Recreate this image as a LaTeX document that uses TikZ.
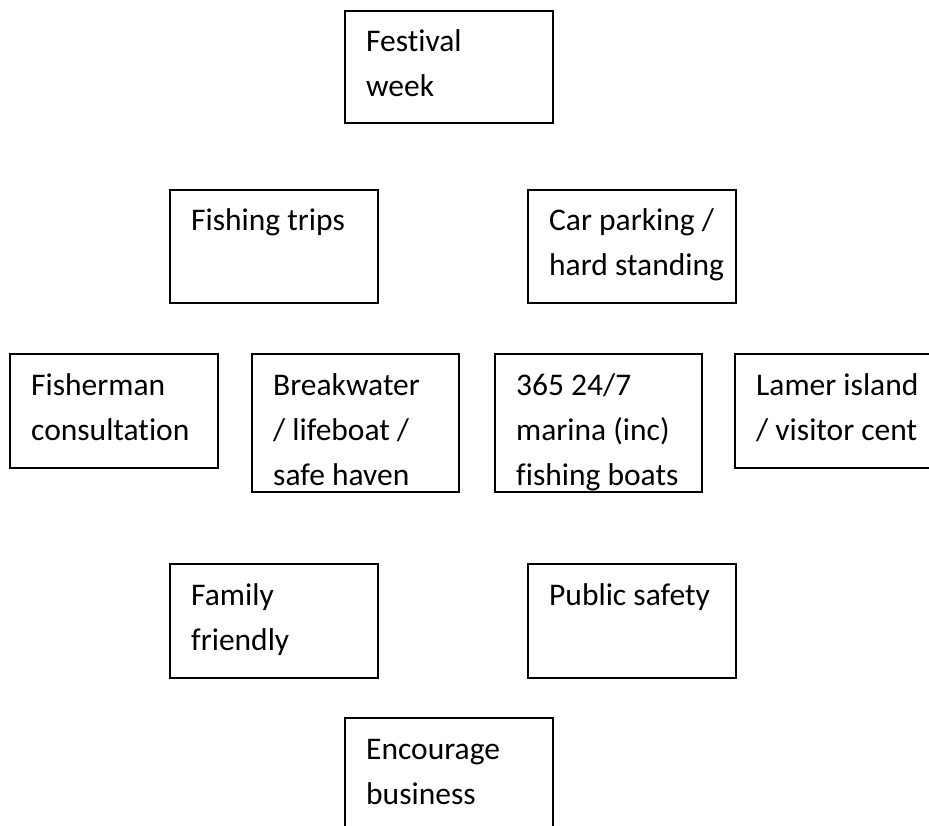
\documentclass[tikz,border=0pt]{standalone}
\usepackage{fontspec}
\setmainfont[Ligatures={NoCommon}]{Carlito}
\usetikzlibrary{calc}
\begin{document}
\begin{tikzpicture}[x=1pt,y=-1pt,
  box/.style={draw=black, line width=1.6pt, rectangle, inner sep=0pt, anchor=north west},
  txt/.style={anchor=base west, inner sep=0pt, align=left, font=\fontsize{31.5}{45}\selectfont}]
\useasboundingbox (0,0) rectangle (929,826);
\clip (0,0) rectangle (929,826);
% boxes
\node[box, minimum width=208pt, minimum height=112pt] (fest) at (344,10) {};
\node[box, minimum width=208pt, minimum height=113pt] (fish) at (169,189) {};
\node[box, minimum width=208pt, minimum height=113pt] (car) at (527,189) {};
\node[box, minimum width=208pt, minimum height=114pt] (fman) at (9,353) {};
\node[box, minimum width=207pt, minimum height=138pt] (brk) at (251,353) {};
\node[box, minimum width=207pt, minimum height=138pt] (mar) at (494,353) {};
\node[box, minimum width=215pt, minimum height=114pt] (lam) at (734,353) {};
\node[box, minimum width=208pt, minimum height=114pt] (fam) at (169,563) {};
\node[box, minimum width=208pt, minimum height=114pt] (pub) at (527,563) {};
\node[box, minimum width=208pt, minimum height=130pt] (enc) at (344,717) {};
% texts (base = last line's baseline)
\node[txt] (festt) at ($(fest.north west)+(22,87)$) {Festival\\week};
\node[txt] (fisht) at ($(fish.north west)+(22,42)$) {Fishing trips};
\node[txt] (cart) at ($(car.north west)+(22,87)$) {Car parking /\\hard standing};
\node[txt] (fmant) at ($(fman.north west)+(22,87)$) {Fisherman\\consultation};
\node[txt] (brkt) at ($(brk.north west)+(22,132)$) {Breakwater\\/ lifeboat /\\safe haven};
\node[txt] (mart) at ($(mar.north west)+(22,132)$) {365 24/7\\marina (inc)\\fishing boats};
\node[txt] (lamt) at ($(lam.north west)+(22,87)$) {Lamer island\\/ visitor cent};
\node[txt] (famt) at ($(fam.north west)+(22,87)$) {Family\\friendly};
\node[txt] (pubt) at ($(pub.north west)+(22,42)$) {Public safety};
\node[txt] (enct) at ($(enc.north west)+(22,87)$) {Encourage\\business};
\end{tikzpicture}
\end{document}
